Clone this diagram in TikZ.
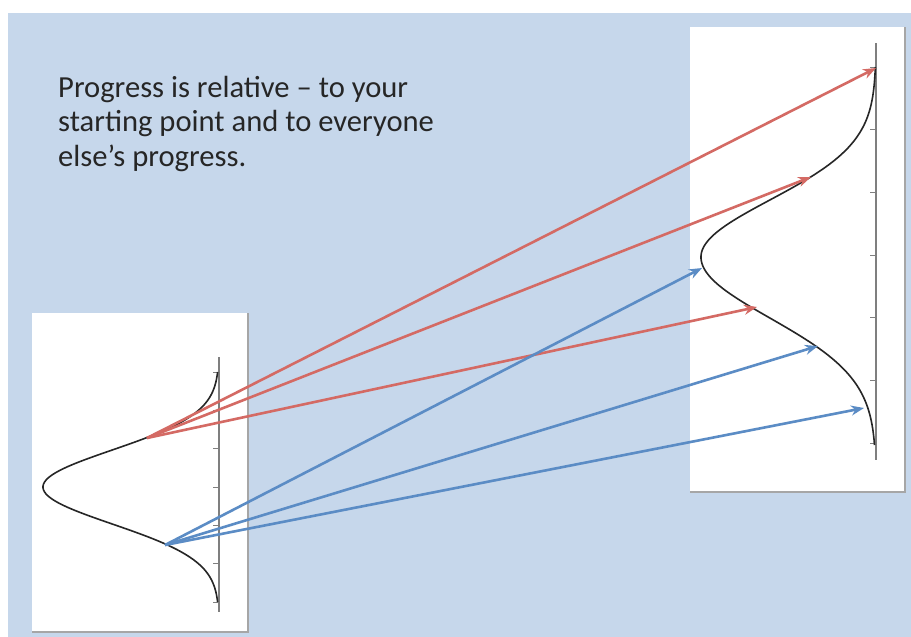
\documentclass[tikz,border=0pt]{standalone}
\usepackage{fontspec}
\setmainfont{Carlito}
\usetikzlibrary{arrows.meta}
\definecolor{bgblue}{HTML}{C6D7EB}
\definecolor{redarrow}{HTML}{D46A64}
\definecolor{bluearrow}{HTML}{5B8CC5}
\definecolor{axisgray}{HTML}{7F7F7F}
\definecolor{shadowgray}{HTML}{A6A6A6}
\tikzset{
  panel/.style={draw=none, fill=white, inner sep=0pt, outer sep=0pt},
  axisline/.style={draw=axisgray, line width=1.1pt},
  tickmark/.style={draw=axisgray, line width=0.8pt},
  curve/.style={draw=black!85, line width=1.6pt, line join=round},
  redarr/.style={draw=redarrow, line width=2.6pt, -{Stealth[length=13pt,width=10pt]}},
  bluearr/.style={draw=bluearrow, line width=2.6pt, -{Stealth[length=13pt,width=10pt]}},
  caption/.style={font=\fontsize{30.6}{34.5}\selectfont, text=black!85, align=left, inner sep=0pt, anchor=north west}
}
\begin{document}
\begin{tikzpicture}[x=1pt,y=-1pt]
\useasboundingbox (0,0) rectangle (911,637);
\fill[white] (0,0) rectangle (911,637);
\fill[bgblue] (8,13) rectangle (911,637);
% left panel
\node[panel, minimum width=216pt, minimum height=319pt] (lp) at (140,472.5) {};
\draw[shadowgray, line width=1.2pt] (lp.north east) -- (lp.south east) -- (lp.south west);
% right panel
\node[panel, minimum width=215pt, minimum height=465pt] (rp) at (797.5,259.5) {};
\draw[shadowgray, line width=1.2pt] (rp.north east) -- (rp.south east) -- (rp.south west);
% left axis
\coordinate (la1) at (219,357);
\coordinate (la2) at (219,612);
\draw[axisline] (la1) -- (la2);
\foreach \i in {0,...,6}{
  \draw[tickmark] (213,{372+\i*38.33}) -- (219,{372+\i*38.33});
}
% right axis
\coordinate (ra1) at (876,43);
\coordinate (ra2) at (876,460);
\draw[axisline] (ra1) -- (ra2);
\foreach \i in {0,...,6}{
  \draw[tickmark] (870,{67+\i*62.67}) -- (876,{67+\i*62.67});
}
% left curve
\draw[curve] plot[domain=372:602, samples=120, smooth] ({219-176*exp(-0.5*((\x-487)/37)^2)}, \x);
% right curve (upper and lower halves)
\draw[curve] plot[domain=67:257, samples=100, smooth] ({876-175*exp(-0.5*((\x-257)/57)^2)}, \x);
\draw[curve] plot[domain=257:445, samples=100, smooth] ({876-175*exp(-0.5*((\x-257)/61)^2)}, \x);
% caption
\node[caption] (txt) at (58,76) {Progress is relative -- to your\\starting point and to everyone\\else’s progress.};
% arrow endpoints
\coordinate (rs) at (147,438);
\coordinate (bs) at (165,545);
\coordinate (r1) at (876,68);
\coordinate (r2) at (811,177);
\coordinate (r3) at (757,307);
\coordinate (b1) at (702,268);
\coordinate (b2) at (818,346);
\coordinate (b3) at (864,408);
\draw[redarr] (rs) -- (r1);
\draw[redarr] (rs) -- (r2);
\draw[redarr] (rs) -- (r3);
\draw[bluearr] (bs) -- (b1);
\draw[bluearr] (bs) -- (b2);
\draw[bluearr] (bs) -- (b3);
\end{tikzpicture}
\end{document}
